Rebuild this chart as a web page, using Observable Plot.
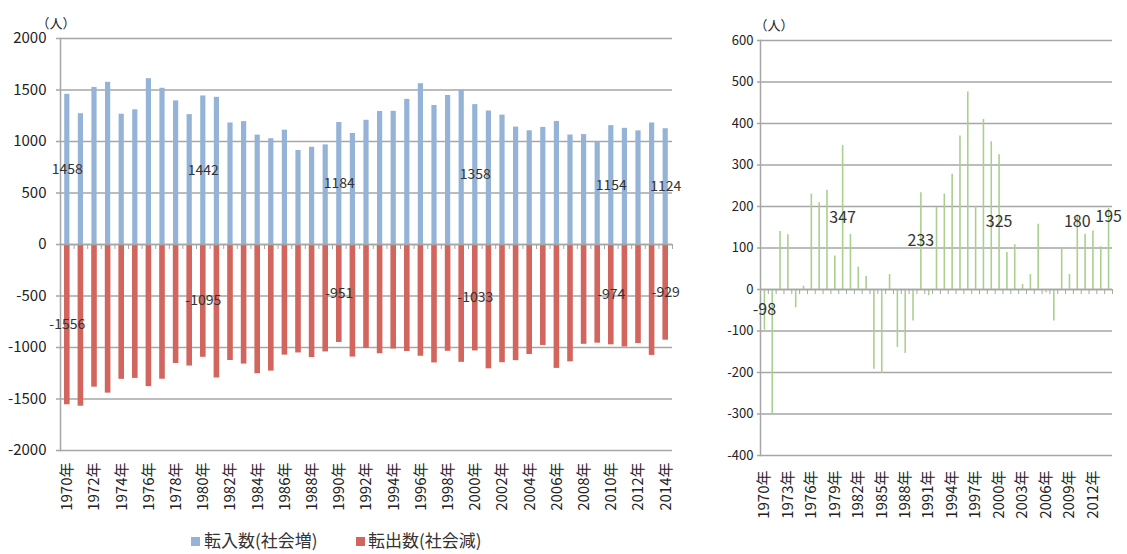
<!DOCTYPE html>
<html>
<head>
<meta charset="utf-8">
<script src="https://cdn.jsdelivr.net/npm/d3@7"></script>
<script src="https://cdn.jsdelivr.net/npm/@observablehq/plot@0.6"></script>
<style>
  body { margin: 0; background: #fff; font-family: "Noto Sans CJK JP", sans-serif; }
  #wrap { position: relative; width: 1127px; height: 554px; overflow: hidden; background: #fff; }
  #left { position: absolute; left: 0; top: 0; }
  #right { position: absolute; left: 680px; top: 0; }
  .lg { position: absolute; top: 530px; font-size: 17px; color: #333; line-height: 20px; white-space: nowrap; }
  .sw { position: absolute; top: 537px; width: 9px; height: 9px; }
</style>
</head>
<body>
<div id="wrap">
  <div id="left"></div>
  <div id="right"></div>
  <div class="sw" id="sw1"></div><div class="lg" id="lg1"></div>
  <div class="sw" id="sw2"></div><div class="lg" id="lg2"></div>
</div>
<script>
// ---- data ----
const years = d3.range(1970, 2015);
const inflow = [1458,1270,1525,1575,1265,1308,1610,1517,1394,1261,
                1442,1429,1180,1193,1062,1027,1110,913,944,967,
                1184,1078,1206,1291,1293,1409,1561,1350,1447,1500,
                1358,1296,1256,1140,1104,1137,1195,1063,1067,994,
                1154,1128,1103,1180,1124];
const outflow = [1556,1570,1385,1443,1309,1300,1380,1308,1155,1180,
                 1095,1296,1126,1161,1254,1229,1074,1053,1098,1043,
                 951,1093,1008,1061,1015,1039,1085,1150,1037,1144,
                 1033,1207,1148,1128,1068,980,1203,1139,969,958,
                 974,995,962,1077,929];
const net = [-98,-300,140,132,-44,8,230,209,239,81,
             347,133,54,32,-192,-202,36,-140,-154,-76,
             233,-15,198,230,278,370,476,200,410,356,
             325,89,108,12,36,157,-8,-76,98,36,
             180,133,141,103,195];
const labelYears = [1970, 1980, 1990, 2000, 2010, 2014];
const leftYTicks = [-2000,-1500,-1000,-500,0,500,1000,1500,2000];
const rightYTicks = [-400,-300,-200,-100,0,100,200,300,400,500,600];
const leftXTicks = years.filter(y => (y - 1970) % 2 === 0);
const rightXTicks = years.filter(y => (y - 1970) % 3 === 0 && y <= 2012);
const unitLabel = "（人）";
const legendIn = "転入数(社会増)";
const legendOut = "転出数(社会減)";

const BLUE = "#95b3d7", RED = "#d2655e", GREEN = "#a9d08e", GRID = "#a6a6a6", TXT = "#333";
const FONT = "'Noto Sans CJK JP', sans-serif";

const inData = years.map((y, i) => ({year: y, v: inflow[i]}));
const outData = years.map((y, i) => ({year: y, v: -outflow[i]}));
const netData = years.map((y, i) => ({year: y, v: net[i]}));
const inLabels = inData.filter(d => labelYears.includes(d.year));
const outLabels = outData.filter(d => labelYears.includes(d.year));
const netLabels = netData.filter(d => labelYears.includes(d.year));

// ---- left chart ----
const LW = 690, LML = 60, LMR = 18;
const lbw = (LW - LML - LMR) / years.length;
const left = Plot.plot({
  width: LW, height: 525, marginLeft: LML, marginRight: LMR, marginTop: 38, marginBottom: 75,
  style: {fontFamily: FONT, color: "#222", background: "transparent", overflow: "visible"},
  x: {type: "band", domain: years, padding: 0, round: false},
  y: {domain: [-2000, 2000]},
  marks: [
    Plot.gridY(leftYTicks, {stroke: GRID, strokeOpacity: 1, strokeWidth: 1.5}),
    Plot.axisY(leftYTicks, {tickSize: 4, tickPadding: 10, fontSize: 15, stroke: GRID, strokeWidth: 1.5, tickFormat: d => String(d), label: null}),
    Plot.axisX(leftXTicks, {tickSize: 0, tickPadding: 12, tickRotate: -90, fontSize: 15, tickFormat: d => d + "年", label: null}),
    Plot.barY(inData, {x: "year", y: "v", fill: BLUE, insetLeft: 4.2, insetRight: 4.2}),
    Plot.barY(outData, {x: "year", y: "v", fill: RED, insetLeft: 4, insetRight: 4}),
    Plot.ruleY([0], {stroke: GRID, strokeWidth: 1.5}),
    Plot.ruleX(years, {x: d => d, y1: 0, y2: 0, insetBottom: -5, dx: lbw / 2, stroke: GRID, strokeWidth: 1}),
    Plot.frame({anchor: "left", stroke: GRID, strokeWidth: 1.5}),
    Plot.text(inLabels, {x: "year", y: d => d.v / 2, text: d => String(d.v), fontSize: 14, fill: TXT}),
    Plot.text(outLabels, {x: "year", y: d => d.v / 2, text: d => String(d.v), fontSize: 14, fill: TXT}),
    Plot.text([unitLabel], {frameAnchor: "top-left", text: d => d, dx: -24, dy: -20, textAnchor: "start", fontSize: 13, fill: "#222"})
  ]
});
document.getElementById("left").appendChild(left);

// ---- right chart ----
const RW = 447, RML = 80, RMR = 15;
const rbw = (RW - RML - RMR) / years.length;
const right = Plot.plot({
  width: RW, height: 525, marginLeft: RML, marginRight: RMR, marginTop: 40, marginBottom: 70,
  style: {fontFamily: FONT, color: "#222", background: "transparent", overflow: "visible"},
  x: {type: "band", domain: years, padding: 0, round: false},
  y: {domain: [-400, 600]},
  marks: [
    Plot.gridY(rightYTicks, {stroke: GRID, strokeOpacity: 1, strokeWidth: 1.5}),
    Plot.axisY(rightYTicks, {tickSize: 3, tickPadding: 4, fontSize: 13, stroke: GRID, strokeWidth: 1.5, tickFormat: d => String(d), label: null}),
    Plot.axisX(rightXTicks, {tickSize: 0, tickPadding: 15, tickRotate: -90, fontSize: 15, tickFormat: d => d + "年", label: null}),
    Plot.ruleX(netData, {x: "year", y1: 0, y2: "v", stroke: GREEN, strokeWidth: 1.6}),
    Plot.ruleY([0], {stroke: GRID, strokeWidth: 1.5}),
    Plot.ruleX(years, {x: d => d, y1: 0, y2: 0, insetBottom: -5, dx: rbw / 2, stroke: GRID, strokeWidth: 1}),
    Plot.frame({anchor: "left", stroke: GRID, strokeWidth: 1.5}),
    Plot.text(netLabels, {x: "year", y: d => d.year >= 2010 ? d.v * 0.9 : d.v / 2, text: d => String(d.v), fontSize: 16, fill: TXT}),
    Plot.text([unitLabel], {frameAnchor: "top-left", text: d => d, dx: -6, dy: -20, textAnchor: "start", fontSize: 13, fill: "#222"})
  ]
});
document.getElementById("right").appendChild(right);

// ---- legend ----
const sw1 = document.getElementById("sw1"), sw2 = document.getElementById("sw2");
sw1.style.left = "191px"; sw1.style.background = BLUE;
sw2.style.left = "356px"; sw2.style.background = RED;
const lg1 = document.getElementById("lg1"), lg2 = document.getElementById("lg2");
lg1.style.left = "204px"; lg1.textContent = legendIn;
lg2.style.left = "368px"; lg2.textContent = legendOut;
</script>
</body>
</html>
